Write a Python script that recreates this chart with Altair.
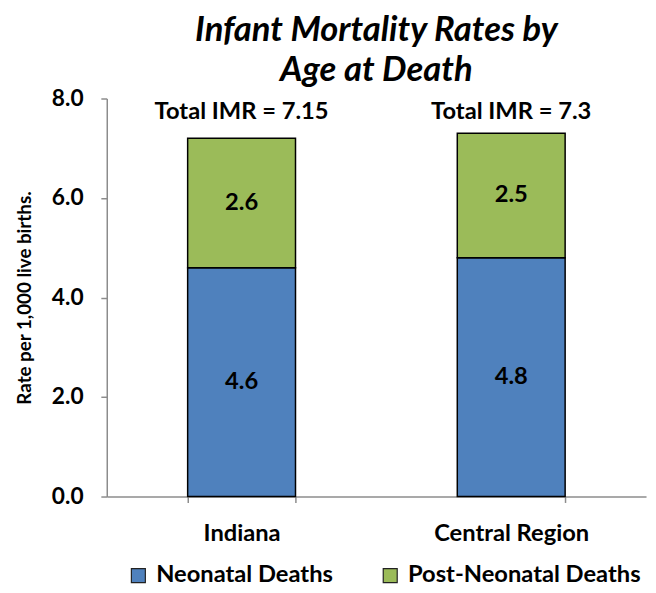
import altair as alt
import pandas as pd

regions = ["Indiana", "Central Region"]
series = ["Neonatal Deaths", "Post-Neonatal Deaths"]
neonatal = [4.6, 4.8]
post_neonatal = [2.6, 2.5]
totals = ["Total IMR = 7.15", "Total IMR = 7.3"]
colors = ["#4F81BD", "#9BBB59"]
y_ticks = [0, 2, 4, 6, 8]

rows = []
for i, r in enumerate(regions):
    base = 0.0
    for s, vals in zip(series, [neonatal, post_neonatal]):
        v = vals[i]
        rows.append({"region": r, "series": s, "value": v, "y0": base,
                     "y1": base + v, "mid": base + v / 2, "order": series.index(s)})
        base += v
df = pd.DataFrame(rows)
tot_df = pd.DataFrame({"region": regions, "label": totals})

FONT = "Lato"

x = alt.X("region:N", sort=regions, title=None,
          scale=alt.Scale(paddingInner=0.6, paddingOuter=0.3),
          axis=alt.Axis(labelAngle=0, labelFontSize=24, labelFontWeight="bold",
                        labelColor="black", labelFont=FONT, labelPadding=20,
                        domainColor="#8c8c8c", domainWidth=1.5, tickColor="#8c8c8c",
                        tickWidth=1.5, tickSize=6, tickBand="extent"))

bars = alt.Chart(df).mark_bar(stroke="black", strokeWidth=1.5).encode(
    x=x,
    y=alt.Y("y0:Q", title="Rate per 1,000 live births.",
            scale=alt.Scale(domain=[0, 8], nice=False),
            axis=alt.Axis(values=y_ticks, format=".1f", labelFontSize=23,
                          labelFontWeight="bold", labelColor="black", labelFont=FONT,
                          labelPadding=18, grid=False, domainColor="#8c8c8c",
                          domainWidth=1.5, tickColor="#8c8c8c", tickWidth=1.5,
                          tickSize=6, titleFontSize=19, titleFontWeight="bold",
                          titleFont=FONT, titleColor="black", titlePadding=17)),
    y2="y1:Q",
    color=alt.Color("series:N", scale=alt.Scale(domain=series, range=colors),
                    legend=alt.Legend(title=None, orient="none", direction="horizontal",
                                      legendX=20, legendY=471, symbolType="square",
                                      symbolSize=200, symbolStrokeColor="#222222",
                                      symbolStrokeWidth=1.2, labelFontSize=24,
                                      labelFontWeight="bold", labelFont=FONT,
                                      labelColor="black", columnPadding=45,
                                      labelLimit=400, symbolOffset=0, labelOffset=6)),
    order="order:Q",
)

labels = alt.Chart(df).mark_text(fontSize=24, fontWeight="bold", font=FONT,
                                 color="black").encode(
    x=alt.X("region:N", sort=regions),
    y=alt.Y("mid:Q"),
    text=alt.Text("value:Q", format=".1f"),
)

tot = alt.Chart(tot_df).mark_text(fontSize=24, fontWeight="bold", font=FONT,
                                  color="black").encode(
    x=alt.X("region:N", sort=regions),
    y=alt.value(14),
    text="label:N",
)

chart = alt.layer(bars, labels, tot).properties(
    width=546, height=403,
    title=alt.Title(["Infant Mortality Rates by", "Age at Death"], fontSize=35,
                    fontStyle="italic", fontWeight="bold", font=FONT, color="black",
                    anchor="middle", lineHeight=40, offset=0),
    autosize=alt.AutoSizeParams(type="none"),
    padding={"left": 100, "top": 88, "right": 2, "bottom": 92},
).configure_view(stroke=None)

chart.save("out.html", embed_options={"renderer": "svg", "actions": False})
